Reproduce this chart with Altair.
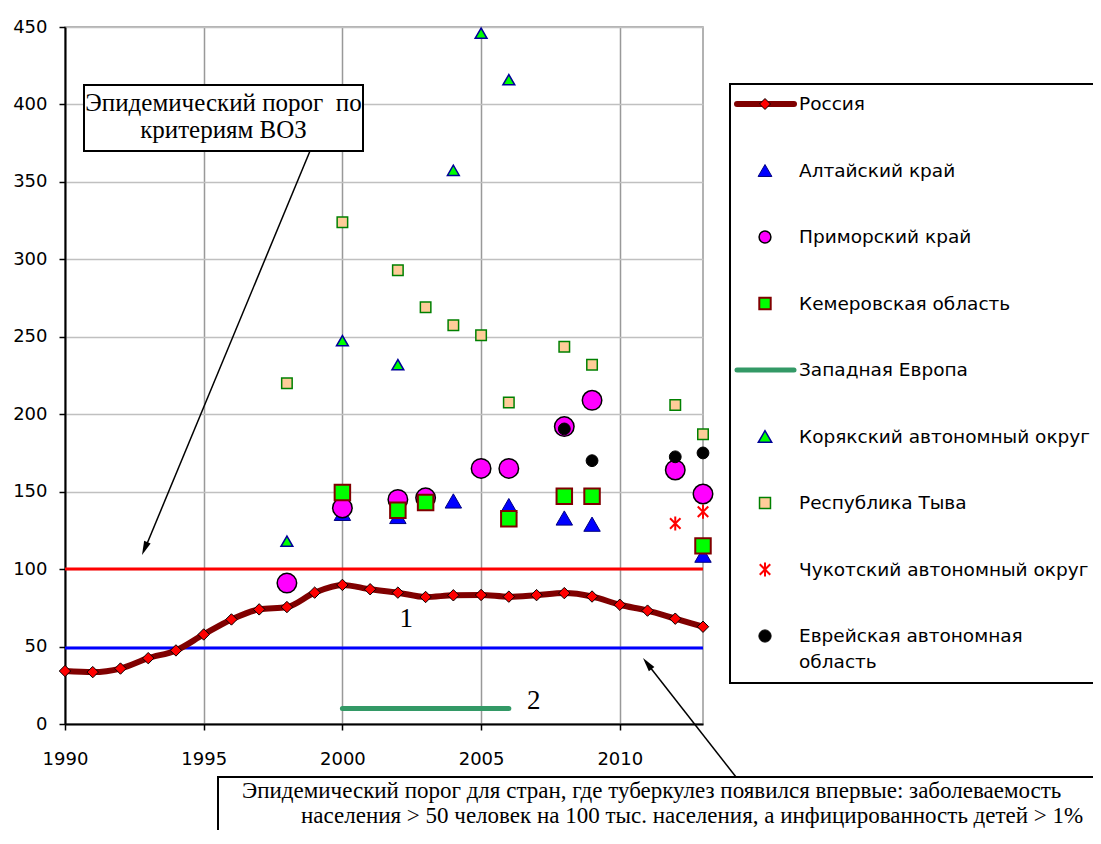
import altair as alt
import pandas as pd

# ---------------- data ----------------
russia_years = list(range(1990, 2014))
russia_values = [34.2, 33.5, 35.8, 42.5, 47.5, 57.8, 67.5, 74.0, 75.5, 84.8,
                 89.8, 87.0, 84.8, 82.0, 83.1, 83.3, 82.2, 83.2, 84.5, 82.3,
                 77.0, 73.2, 68.0, 62.8]
altai_years = [2000, 2002, 2004, 2006, 2008, 2009, 2013]
altai_values = [136, 134, 144, 141, 133, 129, 109]
primorsky_years = [1998, 2000, 2002, 2003, 2005, 2006, 2008, 2009, 2012, 2013]
primorsky_values = [91, 139.5, 145, 146, 165, 165, 192, 209, 164, 148.5]
kemerovo_years = [2000, 2002, 2003, 2006, 2008, 2009, 2013]
kemerovo_values = [149.5, 138, 143, 132.5, 147, 147, 115]
koryak_years = [1998, 2000, 2002, 2004, 2005, 2006]
koryak_values = [118, 247.5, 232, 357.5, 446, 416]
tyva_years = [1998, 2000, 2002, 2003, 2004, 2005, 2006, 2008, 2009, 2012, 2013]
tyva_values = [220, 324, 293, 269, 257.5, 251, 207.5, 243.5, 232, 206, 187]
chukotka_years = [2012, 2013]
chukotka_values = [129.5, 137]
jewish_years = [2008, 2009, 2012, 2013]
jewish_values = [190.5, 170, 172.5, 175]
weurope_years = [2000, 2006]
weurope_values = [10, 10]
who_threshold = [100]
new_country_threshold = [49]

curve_labels = ["1", "2"]
curve_label_years = [2002.3, 2006.9]
curve_label_values = [68, 15]

series_labels = ["Россия", "Алтайский край", "Приморский край",
                 "Кемеровская область", "Западная Европа",
                 "Корякский автономный округ", "Республика Тыва",
                 "Чукотский автономный округ",
                 ["Еврейская автономная", "область"]]

x_ticks = [1990, 1995, 2000, 2005, 2010]
y_ticks = [0, 50, 100, 150, 200, 250, 300, 350, 400, 450]

note_who = ["Эпидемический порог \u00a0по", "критериям ВОЗ"]
note_new = ["Эпидемический порог для стран, где туберкулез появился впервые: заболеваемость",
            "населения > 50 человек на 100 тыс. населения, а инфицированность детей > 1%"]

# ---------------- styling ----------------
SANS = "DejaVu Sans"
SERIF = "Liberation Serif"
W, H = 638, 697

x_scale = alt.Scale(domain=[1990, 2013], nice=False, zero=False)
y_scale = alt.Scale(domain=[0, 450], nice=False)
x_axis = alt.Axis(values=x_ticks, format="d", title=None, grid=True,
                  gridColor="#999999", gridWidth=1.5, domainColor="black",
                  domainWidth=2, tickColor="black", tickSize=6, tickWidth=1.5,
                  labelFont=SANS, labelFontSize=18, labelColor="black",
                  labelPadding=20, labelFlush=False, labelOverlap=False)
y_axis = alt.Axis(values=y_ticks, title=None, grid=True, gridColor="#c0c0c0",
                  gridWidth=1.5, domainColor="black", domainWidth=2,
                  tickColor="black", tickSize=6, tickWidth=1.5,
                  labelFont=SANS, labelFontSize=18, labelColor="black",
                  labelPadding=12, labelFlush=False, labelOverlap=False)

X = alt.X("year:Q", scale=x_scale, axis=x_axis)
Y = alt.Y("value:Q", scale=y_scale, axis=y_axis)


def frame(years, values):
    return pd.DataFrame({"year": years, "value": values})


def points(years, values, shape, size, fill, stroke, sw):
    kw = dict(shape=shape, size=size, stroke=stroke, strokeWidth=sw, opacity=1)
    if fill:
        kw.update(filled=True, fill=fill)
    else:
        kw.update(filled=False)
    return alt.Chart(frame(years, values)).mark_point(**kw).encode(x=X, y=Y)


dummy = pd.DataFrame({"k": [0]})


def box(x, x2, y, y2):
    return alt.Chart(dummy).mark_rect(fill="white", stroke="black", strokeWidth=2).encode(
        x=alt.value(x), x2=alt.value(x2), y=alt.value(y), y2=alt.value(y2))


def seg(x, y, x2, y2, color="black", width=1.5, cap="butt"):
    return alt.Chart(dummy).mark_rule(color=color, strokeWidth=width, strokeCap=cap).encode(
        x=alt.value(x), y=alt.value(y), x2=alt.value(x2), y2=alt.value(y2))


def txt(text, x, y, font, size, align="left", baseline="middle", line_height=None):
    kw = dict(font=font, fontSize=size, align=align, baseline=baseline, color="black")
    if line_height:
        kw["lineHeight"] = line_height
    return alt.Chart(dummy).mark_text(**kw).encode(
        x=alt.value(x), y=alt.value(y), text=alt.value(text))


def sym(shape, x, y, size, fill=None, stroke=None, sw=1, angle=0):
    kw = dict(shape=shape, size=size, opacity=1, strokeWidth=sw)
    if fill:
        kw["filled"] = True
        kw["fill"] = fill
    else:
        kw["filled"] = False
    if stroke:
        kw["stroke"] = stroke
    if angle:
        kw["angle"] = angle
    return alt.Chart(dummy).mark_point(**kw).encode(x=alt.value(x), y=alt.value(y))


ASTER = "M-0.75,-0.75L0.75,0.75M-0.75,0.75L0.75,-0.75M0,-1L0,1"
ARROW = "M0,0L-0.5,2L0.5,2Z"

layers = []
# threshold lines
layers.append(alt.Chart(pd.DataFrame({"value": who_threshold})).mark_rule(
    color="#ff0000", strokeWidth=3).encode(y=Y))
layers.append(alt.Chart(pd.DataFrame({"value": new_country_threshold})).mark_rule(
    color="#0000ff", strokeWidth=3).encode(y=Y))
# Russia
layers.append(alt.Chart(frame(russia_years, russia_values)).mark_line(
    interpolate="monotone", color="#800000", strokeWidth=6).encode(x=X, y=Y))
layers.append(points(russia_years, russia_values, "diamond", 130, "#ff0000", "black", 1))
# Western Europe
layers.append(alt.Chart(frame(weurope_years, weurope_values)).mark_line(
    color="#339966", strokeWidth=5, strokeCap="round").encode(x=X, y=Y))
# regions
layers.append(points(altai_years, altai_values, "triangle-up", 270, "#0000ff", "#000080", 1))
layers.append(points(primorsky_years, primorsky_values, "circle", 380, "#ff00ff", "black", 1.5))
layers.append(points(kemerovo_years, kemerovo_values, "square", 240, "#00ff00", "#800000", 2))
layers.append(points(koryak_years, koryak_values, "triangle-up", 140, "#00ff00", "#000099", 1.5))
layers.append(points(tyva_years, tyva_values, "square", 110, "#ffcc99", "#008000", 1.5))
layers.append(points(chukotka_years, chukotka_values, ASTER, 196, None, "#ff0000", 2))
layers.append(points(jewish_years, jewish_values, "circle", 140, "#000000", "#000000", 1))
# curve labels
layers.append(alt.Chart(pd.DataFrame({"year": curve_label_years, "value": curve_label_values,
                                      "label": curve_labels})).mark_text(
    font=SERIF, fontSize=27, color="black", align="center", baseline="middle").encode(
    x=X, y=Y, text="label:N"))

# WHO note with arrow
layers.append(seg(245, 124, 79, 524))
layers.append(sym(ARROW, 77, 528, 196, fill="black", angle=202.6))
layers.append(box(19, 298, 58, 124))
layers.append(txt(note_who, 158.5, 84, SERIF, 25, align="center", baseline="alphabetic", line_height=27))

# new-country note with arrow
layers.append(seg(671, 750, 581, 635))
layers.append(sym(ARROW, 578, 631, 196, fill="black", angle=322))
layers.append(box(153, 1100, 750, 900))
layers.append(txt(note_new[0], 177, 771, SERIF, 23, baseline="alphabetic"))
layers.append(txt(note_new[1], 236, 796, SERIF, 23, baseline="alphabetic"))

# legend
layers.append(box(665, 1100, 57, 656))
LX, LSYM, LL0, LL1 = 734, 700, 672, 729
ly = [77 + 66.5 * i for i in range(len(series_labels))]
layers.append(seg(LL0, ly[0], LL1, ly[0], color="#800000", width=6, cap="round"))
layers.append(sym("diamond", LSYM, ly[0], 120, fill="#ff0000", stroke="black", sw=1))
layers.append(sym("triangle-up", LSYM, ly[1], 190, fill="#0000ff", stroke="#000080", sw=1))
layers.append(sym("circle", LSYM, ly[2], 140, fill="#ff00ff", stroke="black", sw=1.5))
layers.append(sym("square", LSYM, ly[3], 130, fill="#00ff00", stroke="#800000", sw=2))
layers.append(seg(LL0, ly[4], LL1, ly[4], color="#339966", width=5, cap="round"))
layers.append(sym("triangle-up", LSYM, ly[5], 180, fill="#00ff00", stroke="#000099", sw=1.5))
layers.append(sym("square", LSYM, ly[6], 120, fill="#ffcc99", stroke="#008000", sw=1.5))
layers.append(sym(ASTER, LSYM, ly[7], 196, stroke="#ff0000", sw=2))
layers.append(sym("circle", LSYM, ly[8], 150, fill="#000000", stroke="#000000", sw=1))
for i, lab in enumerate(series_labels):
    if isinstance(lab, list):
        layers.append(txt(lab[0], LX, ly[i], SANS, 18.5))
        layers.append(txt(lab[1], LX, ly[i] + 26, SANS, 18.5))
    else:
        layers.append(txt(lab, LX, ly[i], SANS, 18.5))

chart = alt.layer(*layers).properties(
    width=W, height=H,
    autosize=alt.AutoSizeParams(type="none"),
    padding={"left": 57, "top": 19, "right": 390, "bottom": 106},
    background="white",
).configure_view(stroke="#999999", strokeWidth=1.5)

chart.save("out.html", embed_options={"renderer": "svg", "actions": False})
